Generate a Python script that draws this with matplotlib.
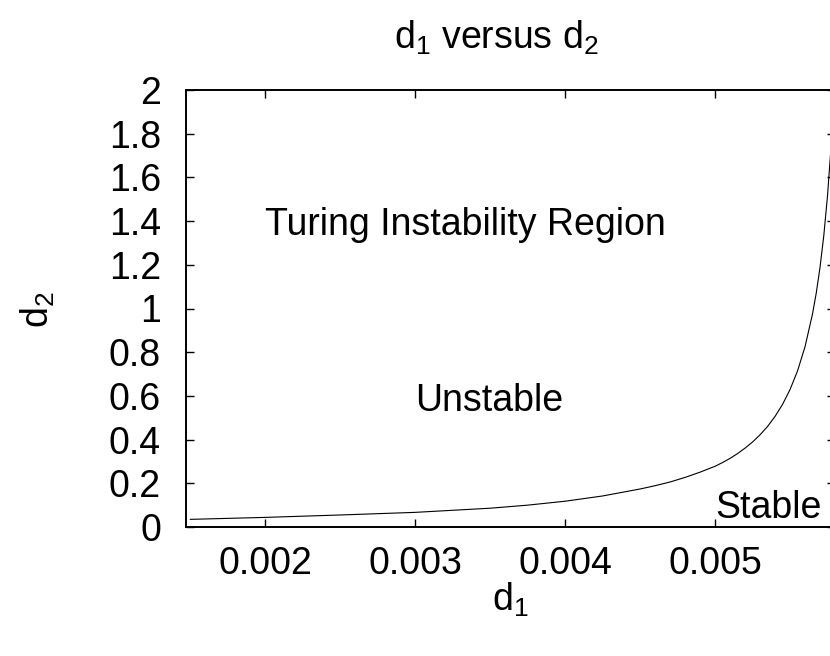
import matplotlib
matplotlib.use("Agg")
import matplotlib.pyplot as plt

plt.rcParams['font.family'] = ['Liberation Sans', 'DejaVu Sans']
plt.rcParams['mathtext.fontset'] = 'custom'
plt.rcParams['mathtext.rm'] = 'Liberation Sans'
plt.rcParams['mathtext.it'] = 'Liberation Sans'

# curve d2(d1)
d1 = [0.00150, 0.00200, 0.00250, 0.00300, 0.00350, 0.00375, 0.00400, 0.00425,
      0.00450, 0.00460, 0.00470, 0.00480, 0.00490, 0.00500, 0.00505, 0.00510,
      0.00515, 0.00520, 0.00525, 0.00530, 0.00535, 0.00540, 0.00545, 0.00550,
      0.00555, 0.00560, 0.00565, 0.005675, 0.00570, 0.005725, 0.00575,
      0.005775, 0.00580]
d2 = [0.035, 0.044, 0.055, 0.067, 0.086, 0.100, 0.118, 0.142,
      0.174, 0.189, 0.206, 0.227, 0.251, 0.278, 0.295, 0.314,
      0.336, 0.361, 0.389, 0.422, 0.460, 0.506, 0.561, 0.629,
      0.714, 0.825, 0.975, 1.071, 1.188, 1.332, 1.515,
      1.754, 2.080]

xticks = [0.002, 0.003, 0.004, 0.005]
xticklabels = ["0.002", "0.003", "0.004", "0.005"]
yticks = [0, 0.2, 0.4, 0.6, 0.8, 1.0, 1.2, 1.4, 1.6, 1.8, 2.0]
yticklabels = ["0", "0.2", "0.4", "0.6", "0.8", "1", "1.2", "1.4", "1.6", "1.8", "2"]

FS = 27

fig = plt.figure(figsize=(8.30, 6.56), dpi=100)
ax = fig.add_axes([186/830, 1-527/656, (835-186)/830, 437/656])

ax.plot(d1, d2, color='black', linewidth=0.8, solid_joinstyle='round')

ax.set_xlim(0.001471, 0.0058)
ax.set_ylim(0, 2)
ax.set_xticks(xticks)
ax.set_xticklabels(xticklabels)
ax.set_yticks(yticks)
ax.set_yticklabels(yticklabels)

ax.tick_params(direction='in', length=6, width=1.0, top=True, right=True,
               labelsize=FS, colors='black')
ax.tick_params(axis='y', pad=18)
ax.tick_params(axis='x', pad=14)
for s in ax.spines.values():
    s.set_linewidth(1.4)

ax.text(0.002, 1.336, "Turing Instability Region", fontsize=FS, ha='left', va='baseline')
ax.text(0.003, 0.531, "Unstable", fontsize=FS, ha='left', va='baseline')
ax.text(0.005, 0.041, "Stable", fontsize=FS, ha='left', va='baseline')

fig.text(496/830, 1-38/656, r"d$_1$ versus d$_2$", fontsize=FS, ha='center', va='center')
fig.text(510/830, 1-600/656, r"d$_1$", fontsize=FS, ha='center', va='center')
fig.text(38/830, 1-310/656, r"d$_2$", fontsize=FS, ha='center', va='center', rotation=90)

fig.savefig("out.png", dpi=100)
